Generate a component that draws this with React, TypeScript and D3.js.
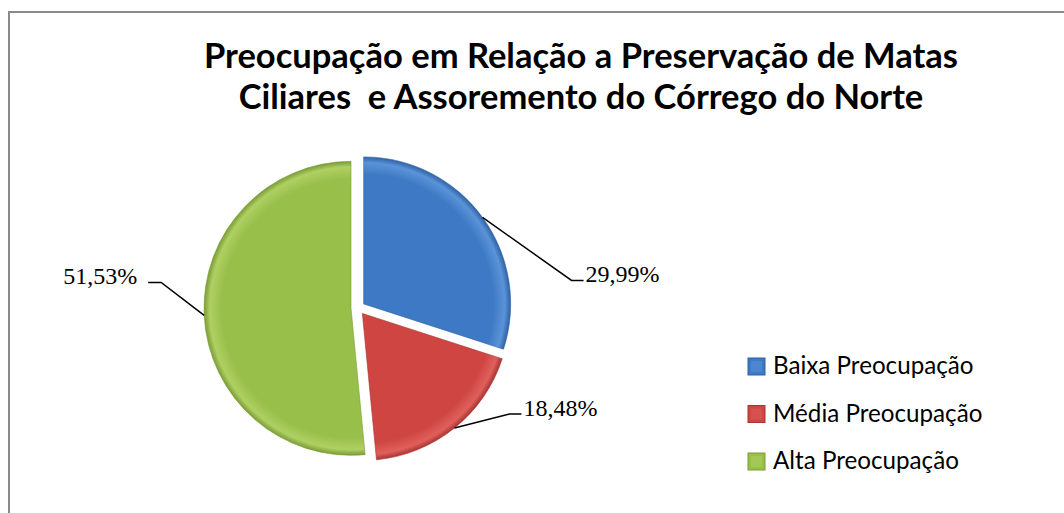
import React from "react";
import * as d3 from "d3";

const categories = ["Baixa Preocupação", "Média Preocupação", "Alta Preocupação"];
const values = [29.99, 18.48, 51.53];
const valueLabels = ["29,99%", "18,48%", "51,53%"];
const titleLines = [
  "Preocupação em Relação a Preservação de Matas",
  "Ciliares  e Assoremento do Córrego do Norte",
];

const colors = ["#3D79C4", "#CE4541", "#99BF4B"];
const darkColors = ["#2F62A3", "#A83431", "#7A9C37"];
const lightColors = ["#5A93D8", "#E0605C", "#AFD062"];

// leader-line layout (elbow and end offsets relative to arc anchor)
const leaderLayout = [
  { elbow: [89, 63], end: [101, 63], anchor: "start" },
  { elbow: [55, -14], end: [67, -14], anchor: "start" },
  { elbow: [-43, -33], end: [-56, -33], anchor: "end" },
];

const W = 1064;
const H = 513;
const cx = 358;
const cy = 308;
const R = 147;
const explode = 7;

export default function App() {
  const pie = d3
    .pie<number>()
    .sort(null)
    .value((d) => d)
    .startAngle(0)
    .endAngle(2 * Math.PI);
  const arcs = pie(values);
  const arcGen = d3.arc<d3.PieArcDatum<number>>().innerRadius(0).outerRadius(R);

  return (
    <svg
      width={W}
      height={H}
      style={{ position: "absolute", left: 0, top: 0, background: "#fff" }}
    >
      <defs>
        {colors.map((c, i) => (
          <radialGradient
            key={i}
            id={`g${i}`}
            gradientUnits="userSpaceOnUse"
            cx={0}
            cy={0}
            r={R}
          >
            <stop offset="0%" stopColor={c} />
            <stop offset="88%" stopColor={c} />
            <stop offset="96%" stopColor={lightColors[i]} />
            <stop offset="100%" stopColor={darkColors[i]} />
          </radialGradient>
        ))}
      </defs>
      <rect x={9} y={12} width={1060} height={520} fill="#fff" stroke="#8a8a8a" strokeWidth={2} />

      {titleLines.map((t, i) => (
        <text
          key={i}
          x={581}
          y={68 + i * 41}
          textAnchor="middle"
          fontFamily="Lato, 'Open Sans', sans-serif"
          fontWeight="bold"
          fontSize={34.5}
          fill="#000"
          style={{ whiteSpace: "pre" }}
        >
          {t}
        </text>
      ))}

      {arcs.map((a, i) => {
        const mid = (a.startAngle + a.endAngle) / 2;
        const ox = cx + explode * Math.sin(mid);
        const oy = cy - explode * Math.cos(mid);
        return (
          <g key={i} transform={`translate(${ox},${oy})`}>
            <path d={arcGen(a) || ""} fill={`url(#g${i})`} stroke={darkColors[i]} strokeWidth={0.6} />
          </g>
        );
      })}

      {arcs.map((a, i) => {
        const mid = (a.startAngle + a.endAngle) / 2;
        const ox = cx + explode * Math.sin(mid);
        const oy = cy - explode * Math.cos(mid);
        const ax = ox + R * Math.sin(mid);
        const ay = oy - R * Math.cos(mid);
        const L = leaderLayout[i];
        const ex = ax + L.elbow[0];
        const ey = ay + L.elbow[1];
        const tx = ax + L.end[0];
        const ty = ay + L.end[1];
        return (
          <g key={i}>
            <polyline
              points={`${ax},${ay} ${ex},${ey} ${tx},${ty}`}
              fill="none"
              stroke="#000"
              strokeWidth={1.5}
            />
            <text
              x={tx + (L.anchor === "start" ? 2 : -11)}
              y={ty + 2}
              textAnchor={L.anchor as any}
              fontFamily="'Liberation Serif', 'Times New Roman', serif"
              fontSize={24}
              fill="#000"
            >
              {valueLabels[i]}
            </text>
          </g>
        );
      })}

      {categories.map((c, i) => (
        <g key={i} transform={`translate(748,${358 + i * 47.5})`}>
          <rect x={0} y={0} width={17} height={17} fill={colors[i]} stroke={darkColors[i]} strokeWidth={1} />
          <rect x={3} y={3} width={11} height={11} fill={lightColors[i]} opacity={0.5} />
          <text
            x={25}
            y={16}
            fontFamily="Lato, 'Open Sans', sans-serif"
            fontSize={24.2}
            fill="#000"
          >
            {c}
          </text>
        </g>
      ))}
    </svg>
  );
}
